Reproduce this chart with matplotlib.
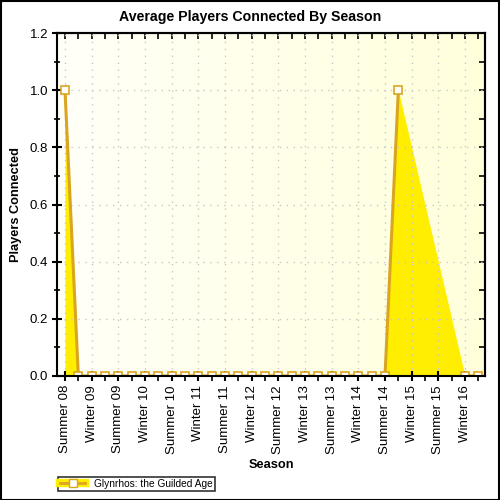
import matplotlib
matplotlib.use("Agg")
import matplotlib.pyplot as plt
from matplotlib.lines import Line2D
from matplotlib.colors import LinearSegmentedColormap
import numpy as np

plt.rcParams['font.family'] = ['Liberation Sans', 'DejaVu Sans']

# seasons shown on the axis (every other category carries a label)
season_labels = ["Summer 08", "Winter 09", "Summer 09", "Winter 10", "Summer 10",
                 "Winter 11", "Summer 11", "Winter 12", "Summer 12", "Winter 13",
                 "Summer 13", "Winter 14", "Summer 14", "Winter 15", "Summer 15",
                 "Winter 16"]

# average players connected per category (None = no data)
players = [1.0, 0, 0, 0, 0, 0, 0, 0, 0, 0, 0, 0, 0, 0, 0, 0,
           0, 0, 0, 0, 0, 0, 0, 0, 0, 1.0, None, None, None, None, 0, 0]
series_name = "Glynrhos: the Guilded Age"

line_col = '#DAA520'
fill_col = '#FFEE00'

x = np.arange(len(players))
y = np.array([np.nan if v is None else v for v in players], dtype=float)
ok = ~np.isnan(y)

fig = plt.figure(figsize=(5, 5), dpi=100)
fig.patch.set_facecolor('white')
ax = fig.add_axes([0.114, 0.248, 0.856, 0.686])

# background gradient in the plot area
grad = np.linspace(0, 1, 256).reshape(1, -1)
bg = LinearSegmentedColormap.from_list('bg', ['#FFFFF8', '#FFFFDC'])
ax.imshow(grad, extent=[0, 1, 0, 1], transform=ax.transAxes, cmap=bg,
          aspect='auto', zorder=0)

ax.fill_between(x[ok], 0, y[ok], color=fill_col, lw=0, zorder=2)
ax.plot(x, y, color=line_col, lw=2.2, marker='s', markersize=5.5,
        markerfacecolor='white', markeredgecolor=line_col, markeredgewidth=1.2,
        zorder=3)

ax.set_xlim(-0.6, 31.5)
ax.set_ylim(0, 1.2)

major_x = np.arange(0, 32, 2)
minor_x = np.arange(1, 32, 2)
major_y = np.arange(0, 1.21, 0.2)
minor_y = np.arange(0, 1.21, 0.1)

ax.set_xticks(major_x)
ax.set_xticklabels(season_labels, rotation=90, fontsize=9.5)
ax.set_xticks(minor_x, minor=True)
ax.set_yticks(major_y)
ax.set_yticklabels([f"{v:.1f}" for v in major_y], fontsize=9.5)
ax.set_yticks(minor_y, minor=True)

ax.tick_params(axis='both', which='major', direction='inout', length=7, width=1.5,
               color='black', pad=3)
ax.tick_params(axis='x', which='minor', direction='out', length=3.5, width=1.2)
ax.tick_params(axis='y', which='minor', direction='inout', length=5, width=1.2)

# inward ticks along top and right edges
top = ax.secondary_xaxis('top')
top.set_xticks(major_x)
top.set_xticks(minor_x, minor=True)
top.tick_params(which='both', direction='in', length=4, width=1.2, labeltop=False)
right = ax.secondary_yaxis('right')
right.set_yticks(major_y)
right.set_yticks(minor_y, minor=True)
right.tick_params(which='both', direction='in', length=4, width=1.2, labelright=False)
for sec in (top, right):
    for s in sec.spines.values():
        s.set_linewidth(1.5)

ax.grid(True, which='major', color='#C8C8C8', linestyle=(0, (1, 4)), lw=1, zorder=1)
ax.set_axisbelow(False)
for s in ax.spines.values():
    s.set_linewidth(1.5)
    s.set_zorder(5)

fig.text(0.5, 1 - 17 / 500, "Average Players Connected By Season",
         ha='center', va='center', fontsize=10.2, fontweight='bold')
fig.text(0.032, 1 - 205 / 500, "Players Connected", rotation=90,
         ha='center', va='center', fontsize=9.2, fontweight='bold')
fig.text(0.542, 1 - 465 / 500, "Season", ha='center', va='center',
         fontsize=9.2, fontweight='bold')

h_fill = Line2D([], [], color=fill_col, lw=6)
h_line = Line2D([], [], color=line_col, lw=2, marker='s', markersize=5.5,
                markerfacecolor='white', markeredgecolor=line_col)
leg = fig.legend([(h_fill, h_line)], [series_name], loc='lower left',
                 bbox_to_anchor=(58 / 500, 9 / 500), fontsize=7.3, frameon=True,
                 fancybox=False, edgecolor='black', borderpad=0.2,
                 handlelength=2.5, handletextpad=0.9, borderaxespad=0)
leg.get_frame().set_linewidth(1.2)

# outer border
fig.add_artist(plt.Rectangle((0.001, 0.001), 0.997, 0.997, transform=fig.transFigure,
                             fill=False, edgecolor='black', lw=1.5))

fig.savefig("out.png", dpi=100)
